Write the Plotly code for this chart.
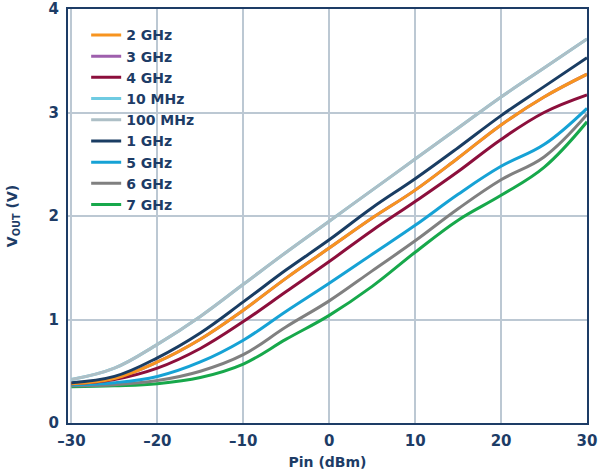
import plotly.graph_objects as go

# ================= DATA =================

pin_dbm = [-30, -25, -20, -15, -10, -5, 0, 5, 10, 15, 20, 25, 30]

v_2ghz   = [0.38, 0.43, 0.59, 0.81, 1.09, 1.40, 1.69, 1.98, 2.25, 2.56, 2.88, 3.15, 3.37]
v_3ghz   = [0.38, 0.43, 0.59, 0.81, 1.09, 1.40, 1.69, 1.98, 2.25, 2.56, 2.88, 3.15, 3.37]
v_4ghz   = [0.38, 0.42, 0.53, 0.72, 0.98, 1.27, 1.56, 1.86, 2.14, 2.43, 2.74, 3.00, 3.17]
v_10mhz  = [0.42, 0.53, 0.76, 1.03, 1.34, 1.65, 1.95, 2.25, 2.55, 2.85, 3.15, 3.43, 3.71]
v_100mhz = [0.42, 0.53, 0.76, 1.03, 1.34, 1.65, 1.95, 2.25, 2.55, 2.85, 3.15, 3.43, 3.71]
v_1ghz   = [0.39, 0.45, 0.63, 0.87, 1.17, 1.48, 1.77, 2.08, 2.36, 2.66, 2.97, 3.25, 3.53]
v_5ghz   = [0.37, 0.39, 0.45, 0.59, 0.80, 1.08, 1.35, 1.63, 1.91, 2.21, 2.48, 2.69, 3.04]
v_6ghz   = [0.36, 0.37, 0.41, 0.50, 0.66, 0.93, 1.18, 1.47, 1.76, 2.07, 2.35, 2.57, 2.98]
v_7ghz   = [0.35, 0.36, 0.38, 0.44, 0.57, 0.81, 1.04, 1.32, 1.65, 1.96, 2.20, 2.47, 2.91]

x_ticks = [-30, -20, -10, 0, 10, 20, 30]
x_tick_text = ["\u201330", "\u201320", "\u201310", "0", "10", "20", "30"]
y_ticks = [0, 1, 2, 3, 4]

# (naam, data, kleur, volgorde in legenda) - tekenvolgorde: verborgen lijnen eerst
series = [
    ("10 MHz",  v_10mhz,  "#6fcbe2", 4),
    ("3 GHz",   v_3ghz,   "#9e5fad", 2),
    ("100 MHz", v_100mhz, "#adbfc6", 5),
    ("7 GHz",   v_7ghz,   "#17a84b", 9),
    ("6 GHz",   v_6ghz,   "#808080", 8),
    ("5 GHz",   v_5ghz,   "#16a2d5", 7),
    ("4 GHz",   v_4ghz,   "#8c0f3c", 3),
    ("2 GHz",   v_2ghz,   "#f7941f", 1),
    ("1 GHz",   v_1ghz,   "#1a3d63", 6),
]

TXT = "#1d3c66"
GRID = "#bcc8d3"
FONT = "DejaVu Sans, Arial, sans-serif"

fig = go.Figure()
for naam, vals, kleur, rank in series:
    fig.add_trace(go.Scatter(
        x=pin_dbm, y=vals, name=naam, mode="lines",
        line=dict(color=kleur, width=3, shape="spline", smoothing=1.1),
        legendrank=rank,
    ))

fig.update_layout(
    width=600, height=476,
    margin=dict(l=68, r=13, t=9, b=53),
    paper_bgcolor="white", plot_bgcolor="white",
    font=dict(family=FONT, color=TXT, size=14, weight="bold"),
    showlegend=True,
    legend=dict(
        x=0.035, y=0.975, xanchor="left", yanchor="top",
        bgcolor="rgba(0,0,0,0)", font=dict(family=FONT, size=14, color=TXT, weight="bold"),
        tracegroupgap=0,
    ),
)

fig.update_xaxes(
    range=[-30.4, 30], tickvals=x_ticks, ticktext=x_tick_text,
    showgrid=True, gridcolor=GRID, gridwidth=2,
    showline=True, linecolor=TXT, linewidth=2, mirror=True,
    zeroline=False, ticks="", automargin=False, ticklabelstandoff=3,
    tickfont=dict(size=15),
    title=dict(text="Pin (dBm)", font=dict(size=14, weight="bold"), standoff=8),
)
fig.update_yaxes(
    range=[0, 4], tickvals=y_ticks,
    showgrid=True, gridcolor=GRID, gridwidth=2,
    showline=True, linecolor=TXT, linewidth=2, mirror=True,
    zeroline=False, ticks="", automargin=False, ticklabelstandoff=4,
    tickfont=dict(size=15),
    title=dict(text="V<sub>OUT</sub> (V)", font=dict(size=14, weight="bold"), standoff=28),
)

# standaard body-marge van de pagina weghalen, anders schuift alles 8 px op
fig.write_html(
    "out.html",
    config={"displayModeBar": False},
    post_script="document.body.style.margin='0';",
)
